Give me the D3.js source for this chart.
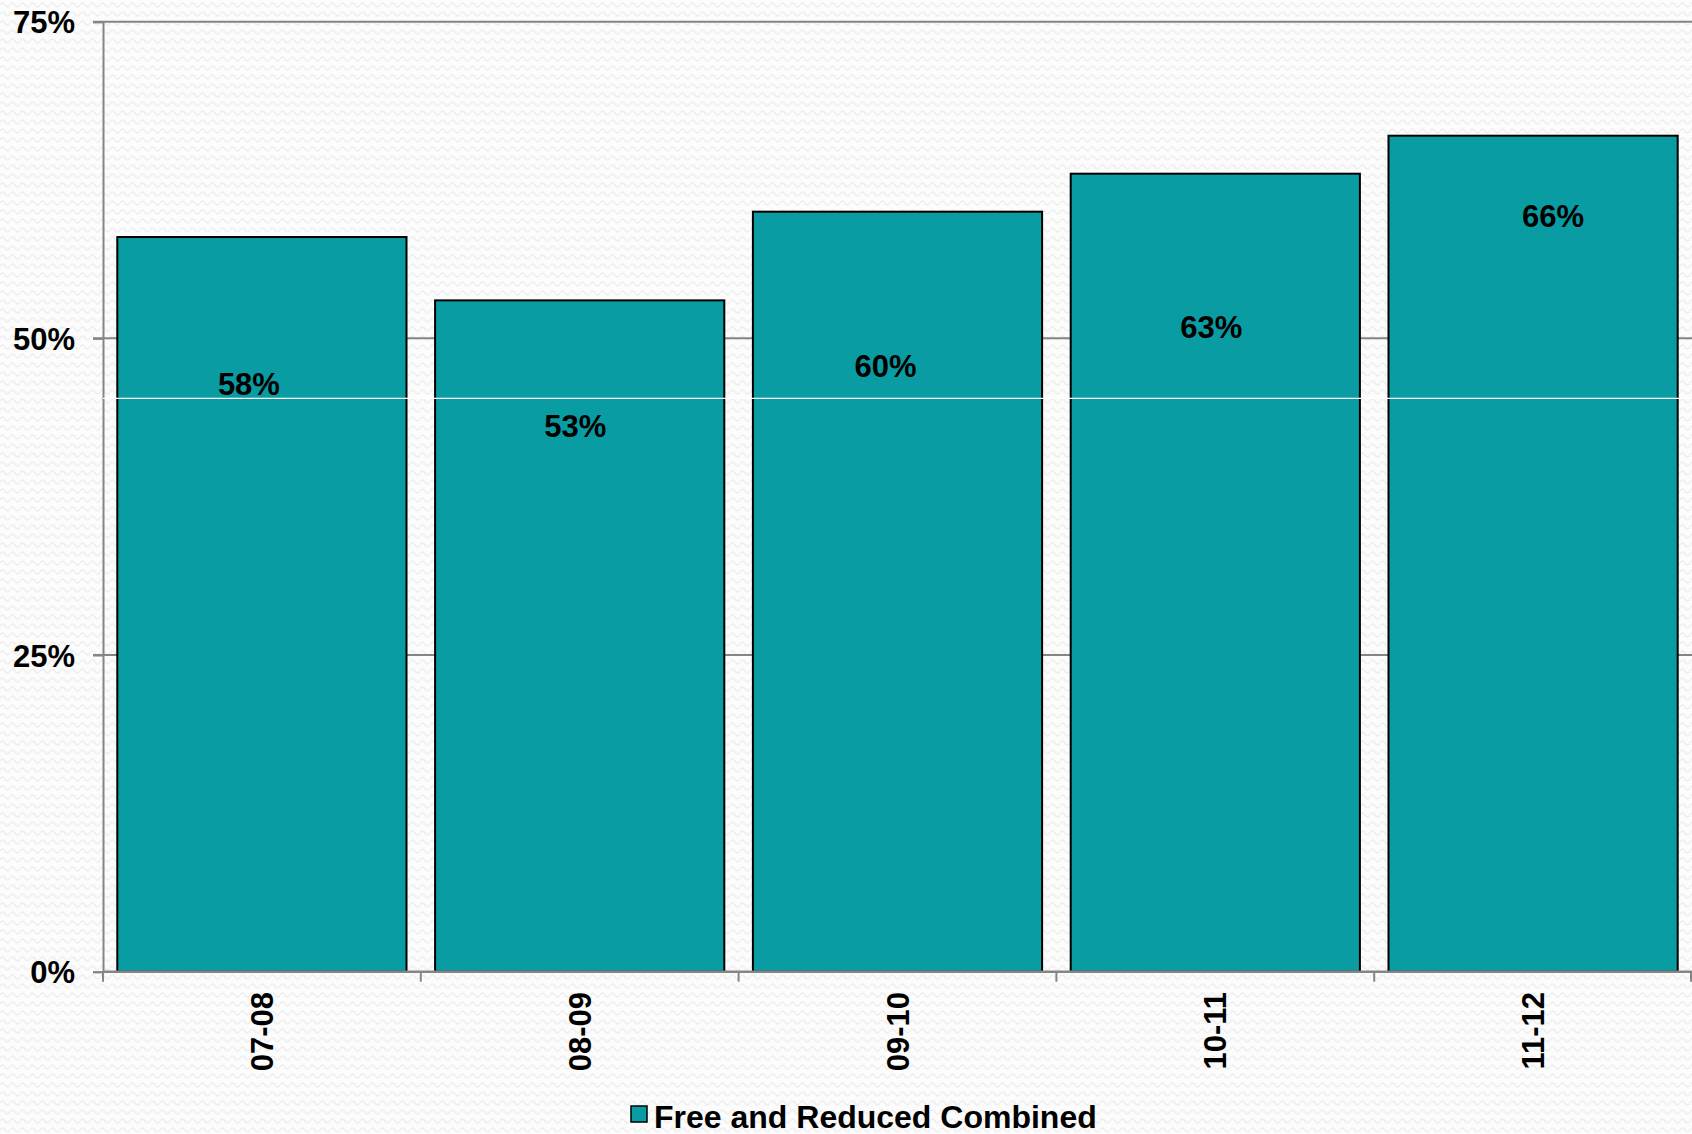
<!DOCTYPE html>
<html>
<head>
<meta charset="utf-8">
<script src="https://cdn.jsdelivr.net/npm/d3@7"></script>
<style>
  html, body { margin: 0; padding: 0; background: #fcfcfc; }
  svg { display: block; }
  text { font-family: "Liberation Sans", Arial, sans-serif; font-weight: bold; fill: #000; }
</style>
</head>
<body>
<svg id="chart" width="1692" height="1134"></svg>
<script>
// ---- data ----
const categories = ["07-08", "08-09", "09-10", "10-11", "11-12"];
const values = [58, 53, 60, 63, 66];
const valueLabels = ["58%", "53%", "60%", "63%", "66%"];
const yTicks = [0, 25, 50, 75];
const yTickLabels = ["0%", "25%", "50%", "75%"];
const seriesName = "Free and Reduced Combined";
const whiteLineValue = 45.27;
// label anchor layout (value units for baseline, px shift from band centre)
const labelBaseline = [45.53, 42.24, 46.93, 50.0, 58.79];
const labelShift = [-13, -4.5, -12, -4, 20];

// ---- layout ----
const W = 1692, H = 1134;
const mLeft = 103, mRight = 1692, mTop = 21.7, mBottom = 971.7;
const barColor = "#0a9ca3";
const gridColor = "#858585";

const svg = d3.select("#chart");
const defs = svg.append("defs");
const pat = defs.append("pattern")
  .attr("id", "wave").attr("patternUnits", "userSpaceOnUse")
  .attr("width", 10).attr("height", 9);
pat.append("rect").attr("width", 10).attr("height", 9).attr("fill", "#fcfcfc");
pat.append("path")
  .attr("d", "M0,5 Q2.5,1 5,5 T10,5")
  .attr("fill", "none").attr("stroke", "#efefef").attr("stroke-width", 1.6);
svg.append("rect").attr("width", W).attr("height", H).attr("fill", "url(#wave)");

const x = d3.scaleBand().domain(categories).range([mLeft, mRight])
  .paddingInner(0.09).paddingOuter(0.045);
const y = d3.scaleLinear().domain([0, 75]).range([mBottom, mTop]);

// gridlines (excluding 0 which is the axis)
svg.append("g").selectAll("line").data(yTicks.filter(d => d > 0)).join("line")
  .attr("x1", mLeft - 10).attr("x2", mRight)
  .attr("y1", d => y(d)).attr("y2", d => y(d))
  .attr("stroke", gridColor).attr("stroke-width", 2);

// y axis
const yAxis = d3.axisLeft(y).tickValues(yTicks)
  .tickFormat((d, i) => yTickLabels[i]).tickSize(10).tickPadding(18);
const gy = svg.append("g").attr("transform", `translate(${mLeft},0)`).call(yAxis);
gy.select(".domain").attr("stroke", gridColor).attr("stroke-width", 2);
gy.selectAll(".tick line").attr("stroke", gridColor).attr("stroke-width", 2);
gy.selectAll(".tick text").attr("font-size", 31)
  .style("font-family", '"Liberation Sans", Arial, sans-serif')
  .style("font-weight", "bold").attr("fill", "#000").attr("dy", "0.36em");

// bars
svg.append("g").selectAll("rect").data(values).join("rect")
  .attr("x", (d, i) => x(categories[i]))
  .attr("y", d => y(d))
  .attr("width", x.bandwidth())
  .attr("height", d => y(0) - y(d))
  .attr("fill", barColor)
  .attr("stroke", "#000").attr("stroke-width", 2);

// thin white line across plot
svg.append("line")
  .attr("x1", mLeft).attr("x2", mRight)
  .attr("y1", y(whiteLineValue)).attr("y2", y(whiteLineValue))
  .attr("stroke", "#fff").attr("stroke-width", 1.2);

// x axis
const xAxisLine = svg.append("g");
xAxisLine.append("line")
  .attr("x1", mLeft).attr("x2", mRight)
  .attr("y1", mBottom).attr("y2", mBottom)
  .attr("stroke", gridColor).attr("stroke-width", 2.5);
const step = x.step();
xAxisLine.selectAll("line.tk").data(d3.range(categories.length + 1)).join("line")
  .attr("class", "tk")
  .attr("x1", i => Math.min(mLeft + i * step, mRight - 1))
  .attr("x2", i => Math.min(mLeft + i * step, mRight - 1))
  .attr("y1", mBottom).attr("y2", mBottom + 10)
  .attr("stroke", gridColor).attr("stroke-width", 2);

svg.append("g").selectAll("text").data(categories).join("text")
  .attr("transform", d => `translate(${x(d) + x.bandwidth() / 2},992) rotate(-90)`)
  .attr("text-anchor", "end").attr("dy", "0.36em")
  .attr("font-size", 31)
  .text(d => d);

// data labels
svg.append("g").selectAll("text").data(valueLabels).join("text")
  .attr("x", (d, i) => x(categories[i]) + x.bandwidth() / 2 + labelShift[i])
  .attr("y", (d, i) => y(labelBaseline[i]))
  .attr("text-anchor", "middle")
  .attr("font-size", 31)
  .text(d => d);

// legend
const lg = svg.append("g");
lg.append("rect").attr("x", 631).attr("y", 1106).attr("width", 16).attr("height", 16)
  .attr("fill", barColor).attr("stroke", "#000").attr("stroke-width", 1.5);
lg.append("text").attr("x", 654).attr("y", 1128).attr("font-size", 32).text(seriesName);
</script>
</body>
</html>
